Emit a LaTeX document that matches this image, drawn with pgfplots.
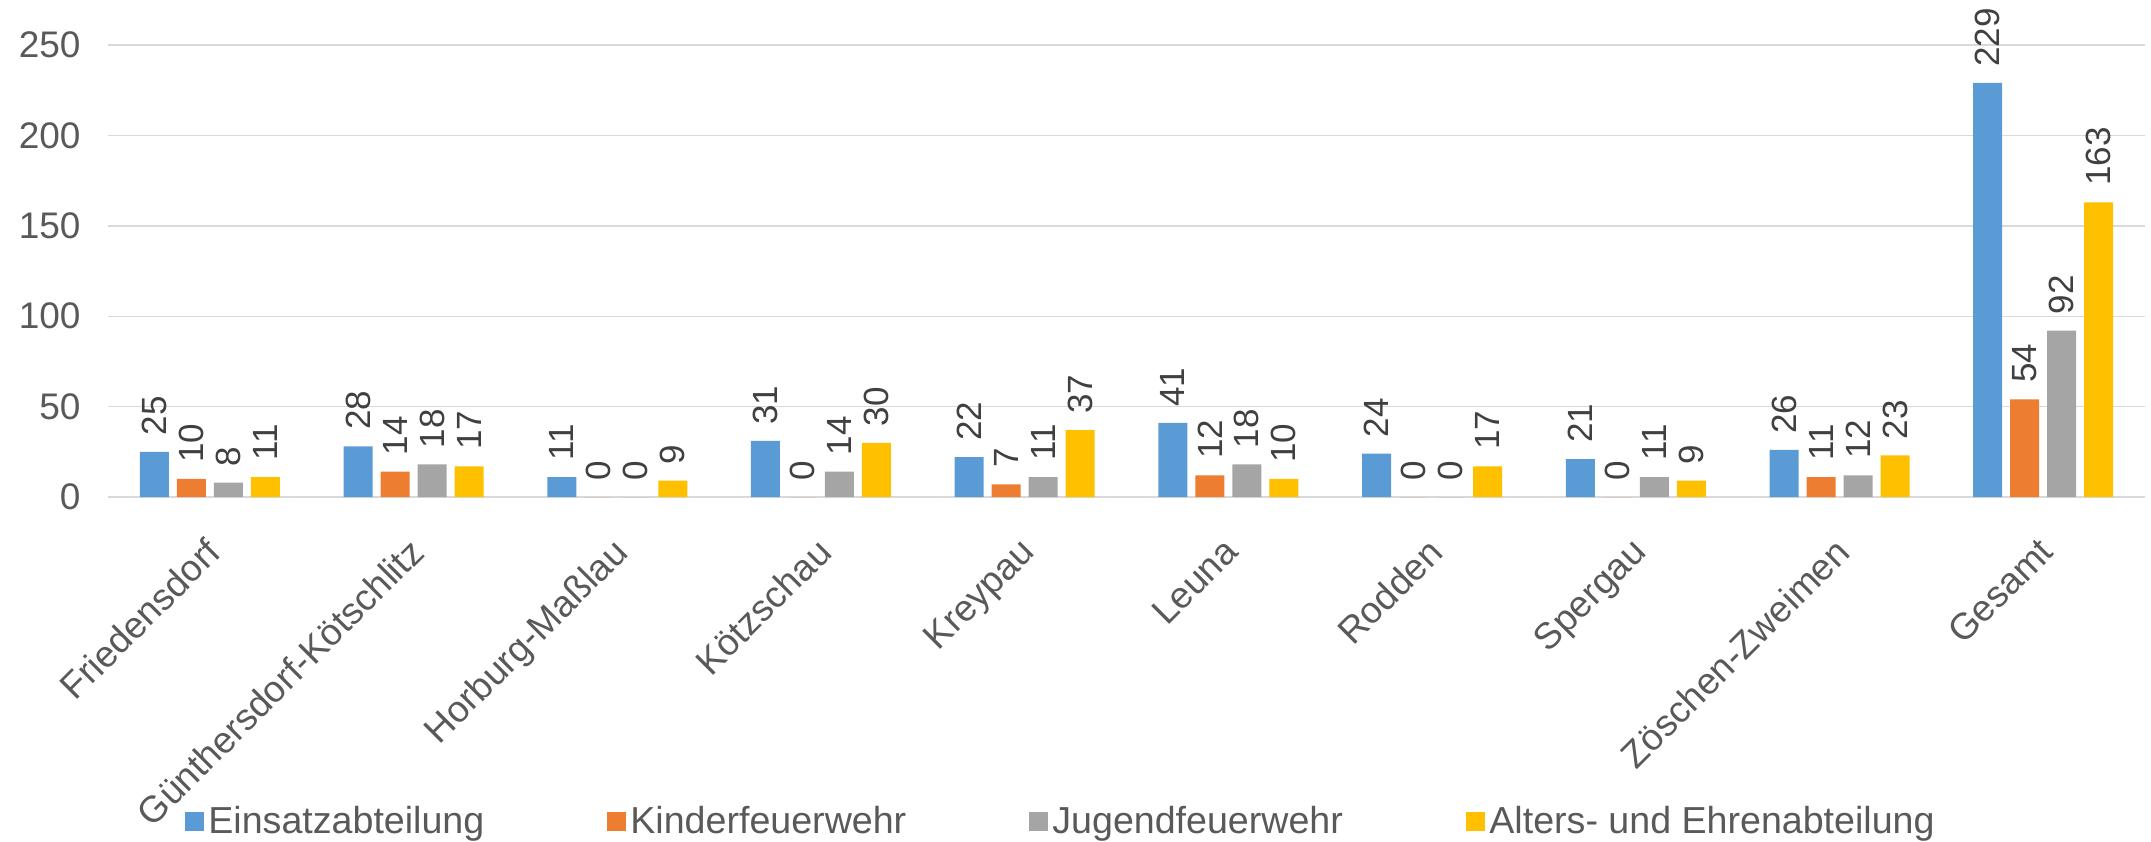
\documentclass[border=0pt]{standalone}
\usepackage{fontspec}
\setmainfont{Liberation Sans}
\usepackage{pgfplots}
\pgfplotsset{compat=1.18}
\definecolor{cA}{HTML}{5B9BD5}
\definecolor{cB}{HTML}{ED7D31}
\definecolor{cC}{HTML}{A5A5A5}
\definecolor{cD}{HTML}{FFC000}
\definecolor{gridc}{HTML}{D9D9D9}
\definecolor{txt}{HTML}{595959}
\definecolor{lbl}{HTML}{404040}
\pgfplotstableread{
x A B C D
0 25 10 8 11
1 28 14 18 17
2 11 0 0 9
3 31 0 14 30
4 22 7 11 37
5 41 12 18 10
6 24 0 0 17
7 21 0 11 9
8 26 11 12 23
9 229 54 92 163
}\datatable
\newcommand{\fs}{\fontsize{17.5}{21}\selectfont}
\newcommand{\ft}{\fontsize{18.5}{22}\selectfont}
\newcommand{\fl}{\fontsize{18.8}{22}\selectfont}
\begin{document}
\begin{tikzpicture}
\path[use as bounding box] (-54pt,-172pt) rectangle (1021.5pt,248.5pt);
\begin{axis}[
  scale only axis, width=1018.5pt, height=226pt,
  xmin=-0.5, xmax=9.5, ymin=0, ymax=250,
  ybar=4pt, bar width=14.5pt,
  xtick={0,...,9},
  xticklabels={Friedensdorf,Günthersdorf-Kötschlitz,Horburg-Maßlau,Kötzschau,Kreypau,Leuna,Rodden,Spergau,Zöschen-Zweimen,Gesamt},
  ytick={0,50,...,250},
  /pgf/number format/assume math mode=true,
  ymajorgrids, grid style={draw=gridc, line width=0.7pt},
  axis lines*=left,
  y axis line style={draw=none},
  x axis line style={draw=gridc, line width=0.7pt},
  major tick length=0pt,
  tick label style={font=\ft, text=txt},
  yticklabel style={xshift=-10.2pt},
  xticklabel style={rotate=45, anchor=north east, yshift=-8pt, xshift=-12.5pt},
  clip=false,
  nodes near coords,
  every node near coord/.append style={rotate=90, anchor=west, font=\fs, text=lbl, inner sep=8pt},
  legend columns=4,
  legend style={at={(0,0)}, anchor=west, xshift=35.5pt, yshift=-162.25pt, draw=none, fill=none, font=\fl, text=txt,
    /tikz/every even column/.append style={column sep=0pt}},
  sq/.style={fill=#1, draw=none, legend image code/.code={\fill[#1] (0pt,-4.75pt) rectangle (9.5pt,4.75pt);}},
]
\addplot[sq=cA] table[x=x,y=A]{\datatable};
\addlegendentry{\makebox[197.5pt][l]{Einsatzabteilung}}
\addplot[sq=cB] table[x=x,y=B]{\datatable};
\addlegendentry{\makebox[197.5pt][l]{Kinderfeuerwehr}}
\addplot[sq=cC] table[x=x,y=C]{\datatable};
\addlegendentry{\makebox[205pt][l]{Jugendfeuerwehr}}
\addplot[sq=cD] table[x=x,y=D]{\datatable};
\addlegendentry{Alters- und Ehrenabteilung}
\end{axis}
\end{tikzpicture}
\end{document}
